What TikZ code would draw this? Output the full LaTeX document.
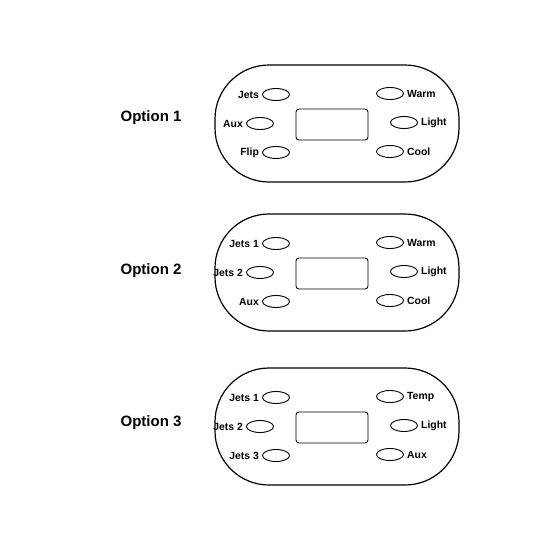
\documentclass[tikz,border=0pt]{standalone}
\usepackage{fontspec}
\setmainfont{Liberation Sans}
\usetikzlibrary{shapes.geometric,positioning}

\begin{document}
\begin{tikzpicture}[x=1pt,y=-1pt,
  panel/.style={draw,line width=1.2pt,rounded corners=54pt,minimum width=244pt,
    minimum height=117pt,inner sep=0pt},
  btn/.style={draw,ellipse,line width=0.9pt,minimum width=27pt,minimum height=12pt,inner sep=0pt},
  lcd/.style={draw,line width=0.9pt,rounded corners=3pt,minimum width=72pt,minimum height=31pt,inner sep=0pt},
  key/.style={font=\bfseries\fontsize{10.4}{12}\selectfont,inner sep=0pt},
  opt/.style={font=\bfseries\fontsize{15}{18}\selectfont,inner sep=0pt}]
  \useasboundingbox[fill=white] (0,0) rectangle (550,550);
  \foreach \n/\y/\oy/\la/\lb/\lc/\ra/\rb/\rc in {
      1/123.5/118/Jets/Aux/Flip/Warm/Light/Cool,
      2/272.5/271/Jets 1/Jets 2/Aux/Warm/Light/Cool,
      3/426.5/423/Jets 1/Jets 2/Jets 3/Temp/Light/Aux}{
    \node[panel] (pan\n) at (337,\y) {};
    \node[opt] (opt\n) at (151,\oy) {Option \n};
    \node[lcd] (lcd\n) at (332,\y+1) {};
    % left column
    \node[btn] (la\n) at (276,\y-29) {};
    \node[btn] (lb\n) at (260,\y) {};
    \node[btn] (lc\n) at (276,\y+29) {};
    \node[key,left=3pt of la\n] {\la};
    \node[key,left=3pt of lb\n] {\lb};
    \node[key,left=3pt of lc\n] {\lc};
    % right column
    \node[btn] (ra\n) at (390,\y-30) {};
    \node[btn] (rb\n) at (404,\y-1) {};
    \node[btn] (rc\n) at (390,\y+28) {};
    \node[key,right=3pt of ra\n] {\ra};
    \node[key,right=3pt of rb\n] {\rb};
    \node[key,right=3pt of rc\n] {\rc};
  }
\end{tikzpicture}
\end{document}
